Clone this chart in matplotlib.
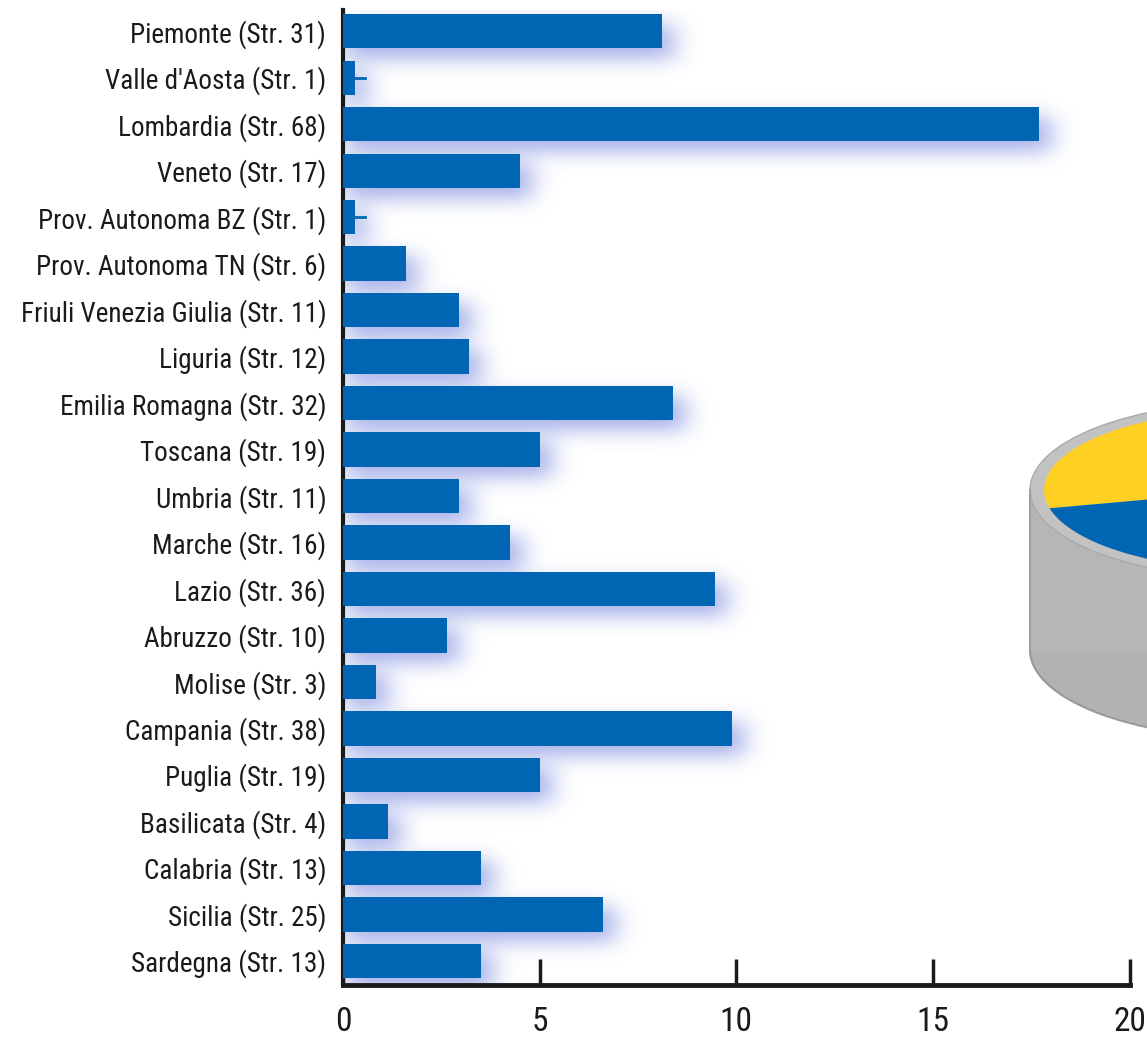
import matplotlib
matplotlib.use("Agg")
import matplotlib.pyplot as plt
from matplotlib.patches import Ellipse, Rectangle
import numpy as np

# ====== 数据 ======
regioni = ["Piemonte (Str. 31)", "Valle d'Aosta (Str. 1)", "Lombardia (Str. 68)",
           "Veneto (Str. 17)", "Prov. Autonoma BZ (Str. 1)", "Prov. Autonoma TN (Str. 6)",
           "Friuli Venezia Giulia (Str. 11)", "Liguria (Str. 12)", "Emilia Romagna (Str. 32)",
           "Toscana (Str. 19)", "Umbria (Str. 11)", "Marche (Str. 16)", "Lazio (Str. 36)",
           "Abruzzo (Str. 10)", "Molise (Str. 3)", "Campania (Str. 38)", "Puglia (Str. 19)",
           "Basilicata (Str. 4)", "Calabria (Str. 13)", "Sicilia (Str. 25)", "Sardegna (Str. 13)"]
valori = [8.1, 0.3, 17.7, 4.5, 0.3, 1.6, 2.95, 3.2, 8.4, 5.0, 2.95, 4.25, 9.45,
          2.65, 0.85, 9.9, 5.0, 1.15, 3.5, 6.6, 3.5]
# piccoli segmenti a destra delle barre (Valle d'Aosta, BZ)
err_idx = [1, 4]
err_val = [0.55, 0.55]
xticks = [0, 5, 10, 15, 20]

# torta (parzialmente visibile)
torta_val = [37, 63]
torta_col = ["#FDD023", "#0066B3"]

BLU = "#0066B3"
FONT = ["Roboto Condensed", "DejaVu Sans"]
plt.rcParams["font.family"] = FONT

fig = plt.figure(figsize=(11.47, 10.39), dpi=100)

# ---- cilindro della torta (coordinate in pixel) ----
bg = fig.add_axes([0, 0, 1, 1], zorder=0)
bg.set_xlim(0, 1147)
bg.set_ylim(1039, 0)
bg.axis("off")
cx, cy, a, b, h = 1255, 490, 225, 88, 160
bg.add_patch(Ellipse((cx, cy + h), 2 * a, 2 * b, fc="#b2b2b2", ec="#999999", lw=1.5))
bg.add_patch(Rectangle((cx - a, cy), 2 * a, h, fc="#b6b6b6", lw=0))
bg.plot([cx - a, cx - a], [cy, cy + h], color="#a0a0a0", lw=1.5)
bg.add_patch(Ellipse((cx, cy), 2 * a, 2 * b, fc="#c2c2c2", ec="#aaaaaa", lw=1))

ia, ib = a - 14, b - 8
pie_ax = fig.add_axes([(cx - ia) / 1147, 1 - (cy + ib) / 1039, 2 * ia / 1147, 2 * ib / 1039], zorder=1)
pie_ax.pie(torta_val, colors=torta_col, startangle=60, counterclock=True,
           wedgeprops=dict(linewidth=0))
pie_ax.set_aspect("auto")
pie_ax.set_xlim(-1, 1)
pie_ax.set_ylim(-1, 1)
pie_ax.axis("off")

# ---- grafico a barre ----
ax = fig.add_axes([0.299, 0.052, 0.686, 0.938], zorder=2)
ax.patch.set_visible(False)
y = np.arange(len(regioni))
bar_h = 0.74

# ombra sfumata sotto le barre
xs = np.linspace(-0.5, 21.5, 1000)
ys = np.linspace(-1.5, 22.0, 1000)
mask = np.zeros((len(ys), len(xs)))
dx, dy = 0.3, 0.22
for yi, v in zip(y, valori):
    rows = (ys >= yi + dy - bar_h / 2) & (ys <= yi + dy + bar_h / 2)
    cols = (xs >= 0.05) & (xs <= v + dx)
    mask[np.ix_(rows, cols)] = 1.0

def blur(m, sig, axis):
    k = np.arange(-3 * int(sig), 3 * int(sig) + 1)
    g = np.exp(-0.5 * (k / sig) ** 2)
    g /= g.sum()
    return np.apply_along_axis(lambda r: np.convolve(r, g, mode="same"), axis, m)

mask = blur(blur(mask, 14, 1), 9, 0)
img = np.zeros((len(ys), len(xs), 4))
img[..., 0], img[..., 1], img[..., 2] = 0.50, 0.56, 0.88
img[..., 3] = np.clip(mask * 0.7, 0, 1)
ax.imshow(img, extent=[xs[0], xs[-1], ys[-1], ys[0]], aspect="auto",
          interpolation="bilinear", zorder=2)

ax.barh(y, valori, height=bar_h, color=BLU, zorder=3)
for i, e in zip(err_idx, err_val):
    ax.plot([valori[i], e], [y[i], y[i]], color=BLU, lw=2, zorder=3)

ax.set_yticks(y)
ax.set_yticklabels(regioni, fontsize=19.5)
ax.set_ylim(len(regioni) - 0.48, -0.45)
ax.set_xlim(0, 20)
ax.set_xticks(xticks)
ax.set_xticklabels([str(t) for t in xticks], fontsize=24)
ax.tick_params(axis="y", length=0, pad=12, labelcolor="#1a1a1a")
ax.tick_params(axis="x", direction="in", length=19, width=2.5, pad=15,
               color="#1a1a1a", labelcolor="#1a1a1a")

for s in ["top", "right"]:
    ax.spines[s].set_visible(False)
ax.spines["left"].set_linewidth(3)
ax.spines["bottom"].set_linewidth(3.5)
ax.spines["left"].set_color("#1a1a1a")
ax.spines["bottom"].set_color("#1a1a1a")

fig.savefig("out.png", dpi=100)
